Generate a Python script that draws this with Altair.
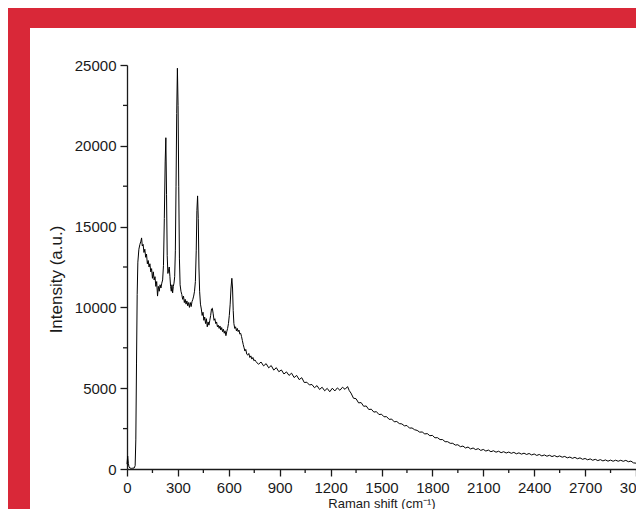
import altair as alt
import pandas as pd

# Raman spectrum
shift = [
    0, 4, 8, 12, 18, 26, 34, 42, 48, 52, 56, 60, 64, 70, 76, 82, 86, 90, 95, 100,
    105, 110, 115, 120, 125, 130, 135, 140, 145, 150, 155, 160, 165, 170, 175, 180, 185, 190, 195, 200,
    205, 210, 215, 220, 225, 229, 233, 237, 241, 245, 249, 253, 257, 261, 265, 269, 273, 277, 281, 285,
    289, 293, 297, 301, 305, 309, 313, 318, 323, 328, 333, 338, 343, 348, 353, 358, 363, 368, 373, 378,
    383, 388, 393, 398, 403, 408, 412, 416, 420, 424, 428, 433, 438, 443, 448, 453, 458, 463, 468, 473,
    478, 483, 488, 493, 498, 503, 508, 513, 518, 523, 528, 533, 538, 543, 548, 553, 558, 563, 568, 573,
    578, 583, 588, 593, 598, 603, 608, 613, 618, 622, 626, 630, 635, 640, 645, 650, 655, 660, 665, 670,
    675, 680, 685, 690, 695, 700, 706, 712, 718, 724, 730, 736, 742, 748, 754,
    760, 775, 790, 805, 820, 835, 850, 865, 880, 895, 910, 925, 940, 955, 970, 985, 1000, 1015, 1030, 1045,
    1060, 1075, 1090, 1105, 1120, 1135, 1150, 1165, 1180, 1195, 1210, 1225, 1240, 1255, 1270, 1285, 1300, 1310, 1320, 1335,
    1350, 1365, 1380, 1395, 1410, 1425, 1440, 1455, 1470, 1485, 1500, 1515, 1530, 1545, 1560, 1575, 1590, 1605, 1620, 1635,
    1650, 1665, 1680, 1695, 1710, 1725, 1740, 1755, 1770, 1785, 1800, 1815, 1830, 1845, 1860, 1875, 1890, 1905, 1920, 1935,
    1950, 1965, 1980, 1995, 2010, 2025, 2040, 2055, 2070, 2085, 2100, 2115, 2130, 2145, 2160, 2175, 2190, 2205, 2220, 2235,
    2250, 2265, 2280, 2295, 2310, 2325, 2340, 2355, 2370, 2385, 2400, 2415, 2430, 2445, 2460, 2475, 2490, 2505, 2520, 2535,
    2550, 2565, 2580, 2595, 2610, 2625, 2640, 2655, 2670, 2685, 2700, 2715, 2730, 2745, 2760, 2775, 2790, 2805, 2820, 2835,
    2850, 2865, 2880, 2895, 2910, 2925, 2940, 2955, 2970, 2985, 3000,
]
intensity = [
    300, 800, 350, 120, 60, 40, 50, 60, 200, 1800, 6500, 10800, 12800, 13600, 13900, 14100, 14300, 13800, 13900, 13400,
    13600, 13100, 13300, 12700, 12900, 12500, 12700, 12200, 12400, 11800, 12200, 11700, 11900, 11300, 11600, 10700, 11300, 11000, 11400, 11200,
    11500, 11700, 12600, 15500, 19000, 20500, 17000, 13200, 12100, 12300, 12500, 11900, 11300, 11000, 11400, 10900, 11300, 11500, 11900, 13500,
    17500, 22000, 24800, 22500, 17500, 13000, 11400, 11000, 10800, 10500, 10700, 10300, 10500, 10200, 10400, 10100, 10300, 10000, 10300, 10050,
    10350, 10500, 10700, 11000, 11600, 13500, 16000, 16900, 15500, 12500, 11000, 10200, 9900, 9500, 9700, 9200, 9400, 9000, 9300, 8800,
    9100, 8900, 9200, 9500, 9900, 9950, 9600, 9200, 9300, 9000, 9100, 8800, 8900, 8700, 8850, 8600, 8750, 8500, 8650, 8400,
    8550, 8250, 8500, 8700, 9000, 9500, 10200, 11200, 11800, 11200, 9800, 9000, 8700, 8800, 8550, 8700, 8500, 8600, 8350, 8400,
    8200, 7950, 7700, 7500, 7300, 7400, 7100, 7050, 7150, 6900, 7000, 6800, 6900, 6700, 6750,
    6650, 6480, 6620, 6380, 6520, 6260, 6400, 6120, 6270, 6020, 6130, 5880, 6010, 5790, 5930, 5660, 5790, 5530, 5650, 5350,
    5370, 5200, 5230, 5030, 5160, 4920, 5060, 4840, 4990, 4780, 5000, 4830, 5020, 4870, 5060, 4930, 5100, 4850, 4700, 4380,
    4350, 4090, 4110, 3880, 3900, 3680, 3700, 3520, 3550, 3370, 3390, 3230, 3240, 3070, 3090, 2920, 2940, 2810, 2790, 2670,
    2690, 2530, 2540, 2430, 2390, 2280, 2290, 2170, 2190, 2060, 2080, 1930, 1940, 1820, 1820, 1690, 1690, 1590, 1590, 1480,
    1500, 1380, 1420, 1300, 1360, 1240, 1300, 1200, 1260, 1150, 1210, 1110, 1170, 1070, 1130, 1040, 1100, 1010, 1070, 990,
    1050, 970, 1030, 940, 1000, 920, 980, 900, 960, 870, 930, 840, 900, 810, 870, 790, 850, 770, 830, 750,
    810, 730, 780, 690, 740, 660, 720, 635, 690, 600, 650, 570, 625, 540, 600, 520, 580, 500, 560, 485,
    550, 480, 545, 480, 540, 475, 535, 450, 490, 380, 360,
]

x_major = [0, 300, 600, 900, 1200, 1500, 1800, 2100, 2400, 2700, 3000]
x_minor = [150, 450, 750, 1050, 1350, 1650, 1950, 2250, 2550, 2850]
y_major = [0, 5000, 10000, 15000, 20000, 25000]
y_minor = [2500, 7500, 12500, 17500, 22500]

W, H = 509, 404
FONT = "Liberation Sans"
INK = "#1a1a1a"
RED = "#d92838"

df = pd.DataFrame({"shift": shift, "intensity": intensity})
xs = alt.Scale(domain=[0, 3000], nice=False, zero=False)
ys = alt.Scale(domain=[0, 25000], nice=False)

xaxis = alt.Axis(values=x_major, title="Raman shift (cm⁻¹)", format="d",
                 titlePadding=2, titleFontSize=13, labelFlush=False, labelOverlap=False)
yaxis = alt.Axis(values=y_major, title="Intensity (a.u.)", format="d",
                 titleX=-71, titleY=214, titleAngle=-90,
                 titleBaseline="middle", titleAlign="center",
                 labelFlush=False, labelOverlap=False)

one = pd.DataFrame({"k": [0]})
band_top = alt.Chart(one).mark_rect(color=RED).encode(
    x=alt.value(-130), x2=alt.value(W + 30), y=alt.value(-70), y2=alt.value(-37)
)
band_left = alt.Chart(one).mark_rect(color=RED).encode(
    x=alt.value(-130), x2=alt.value(-97), y=alt.value(-37), y2=alt.value(H + 80)
)

line = alt.Chart(df).mark_line(color="#000000", strokeWidth=1).encode(
    x=alt.X("shift:Q", scale=xs, axis=xaxis),
    y=alt.Y("intensity:Q", scale=ys, axis=yaxis),
    order="shift:Q",
)

minor_x_df = pd.DataFrame({"shift": x_minor})
minor_y_df = pd.DataFrame({"intensity": y_minor})
xminor = alt.Chart(minor_x_df).mark_rule(color=INK, strokeWidth=1.3).encode(
    x=alt.X("shift:Q", scale=xs, axis=xaxis), y=alt.value(H), y2=alt.value(H + 4)
)
yminor = alt.Chart(minor_y_df).mark_rule(color=INK, strokeWidth=1.3).encode(
    y=alt.Y("intensity:Q", scale=ys, axis=yaxis), x=alt.value(0), x2=alt.value(-4)
)

chart = alt.layer(line, xminor, yminor, band_top, band_left).properties(
    width=W, height=H,
    autosize=alt.AutoSizeParams(type="none"),
    padding={"left": 119, "top": 57, "right": 0, "bottom": 40},
    background="white",
).configure_view(strokeWidth=0).configure_axis(
    domainColor=INK, domainWidth=1.3,
    tickColor=INK, tickWidth=1.3, tickSize=7,
    labelFont=FONT, labelFontSize=15, labelColor=INK, labelPadding=4,
    titleFont=FONT, titleFontSize=17, titleColor=INK, titleFontWeight="normal",
    grid=False,
)

chart.save("out.html", embed_options={"renderer": "svg", "actions": False})
